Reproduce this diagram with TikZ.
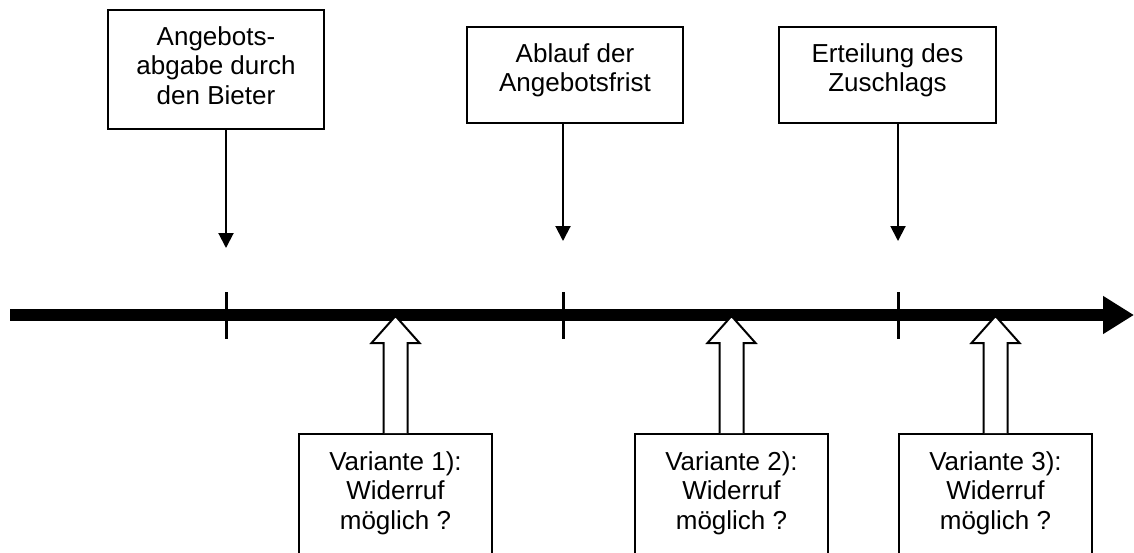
\documentclass[tikz,border=0pt]{standalone}
\usepackage{fontspec}
\setmainfont{Liberation Sans}
\usetikzlibrary{arrows.meta,calc}
\begin{document}
\begin{tikzpicture}[x=0.5pt,y=-0.5pt,
  evbox/.style={draw,line width=1pt,inner sep=0pt,anchor=north west,fill=white},
  vbox/.style={draw,line width=1pt,inner sep=0pt,anchor=north west,fill=white,
    minimum width=96.5pt,minimum height=70pt},
  txt/.style={inner sep=0pt,anchor=north,align=center,font=\fontsize{13}{14.75}\selectfont},
  pointer/.style={line width=1pt,-{Triangle[length=7.5pt,width=7.5pt]}},
  timeline/.style={line width=6pt,-{Triangle[length=15.5pt,width=18pt]}},
  tickmark/.style={line width=1.5pt},
  hollow/.style={draw,line width=1pt,fill=white,line join=miter}]
\useasboundingbox (0,0) rectangle (1134,552);
\clip (0,0) rectangle (1134,552);

% time axis
\coordinate (ts) at (10,315);
\coordinate (te) at (1134,315);
\draw[timeline] (ts) -- (te);

% event positions on the axis
\coordinate (m1) at (226,315);
\coordinate (m2) at (563,315);
\coordinate (m3) at (898,315);
\foreach \m in {m1,m2,m3}
  \draw[tickmark] ($(\m)+(0,-23)$) -- ($(\m)+(0,24)$);

% events above the axis
\node[evbox,minimum width=108pt,minimum height=59.5pt] (e1) at (107,9) {};
\node[txt] (e1t) at ($(e1.north)+(0,17)$) {Angebots-\\abgabe durch\\den Bieter};
\node[evbox,minimum width=108pt,minimum height=48pt] (e2) at (466,26) {};
\node[txt] (e2t) at ($(e2.north)+(0,17)$) {Ablauf der\\Angebotsfrist};
\node[evbox,minimum width=108.5pt,minimum height=48pt] (e3) at (778,26) {};
\node[txt] (e3t) at ($(e3.north)+(0,17)$) {Erteilung des\\Zuschlags};

\coordinate (d1) at (226,248);
\coordinate (d2) at (563,241);
\coordinate (d3) at (898,241);
\draw[pointer] (e1.south -| d1) -- (d1);
\draw[pointer] (e2.south -| d2) -- (d2);
\draw[pointer] (e3.south -| d3) -- (d3);

% variants below the axis
\node[vbox] (v1) at (298,433) {};
\node[txt] (v1t) at ($(v1.north)+(0,18)$) {Variante 1):\\Widerruf\\möglich ?};
\node[vbox] (v2) at (634,433) {};
\node[txt] (v2t) at ($(v2.north)+(0,18)$) {Variante 2):\\Widerruf\\möglich ?};
\node[vbox] (v3) at (898,433) {};
\node[txt] (v3t) at ($(v3.north)+(0,18)$) {Variante 3):\\Widerruf\\möglich ?};

% hollow arrows from the variants up to the axis
\coordinate (p1) at (v1.north |- 0,316);
\coordinate (p2) at (v2.north |- 0,316);
\coordinate (p3) at (v3.north |- 0,316);
\foreach \v/\p in {v1/p1,v2/p2,v3/p3}
  \draw[hollow] ($(\v.north)+(-12,0)$) -- ++(0,-90) -- ++(-12,0) -- (\p)
    -- ($(\v.north)+(24,-90)$) -- ++(-12,0) -- ($(\v.north)+(12,0)$);
\end{tikzpicture}
\end{document}
